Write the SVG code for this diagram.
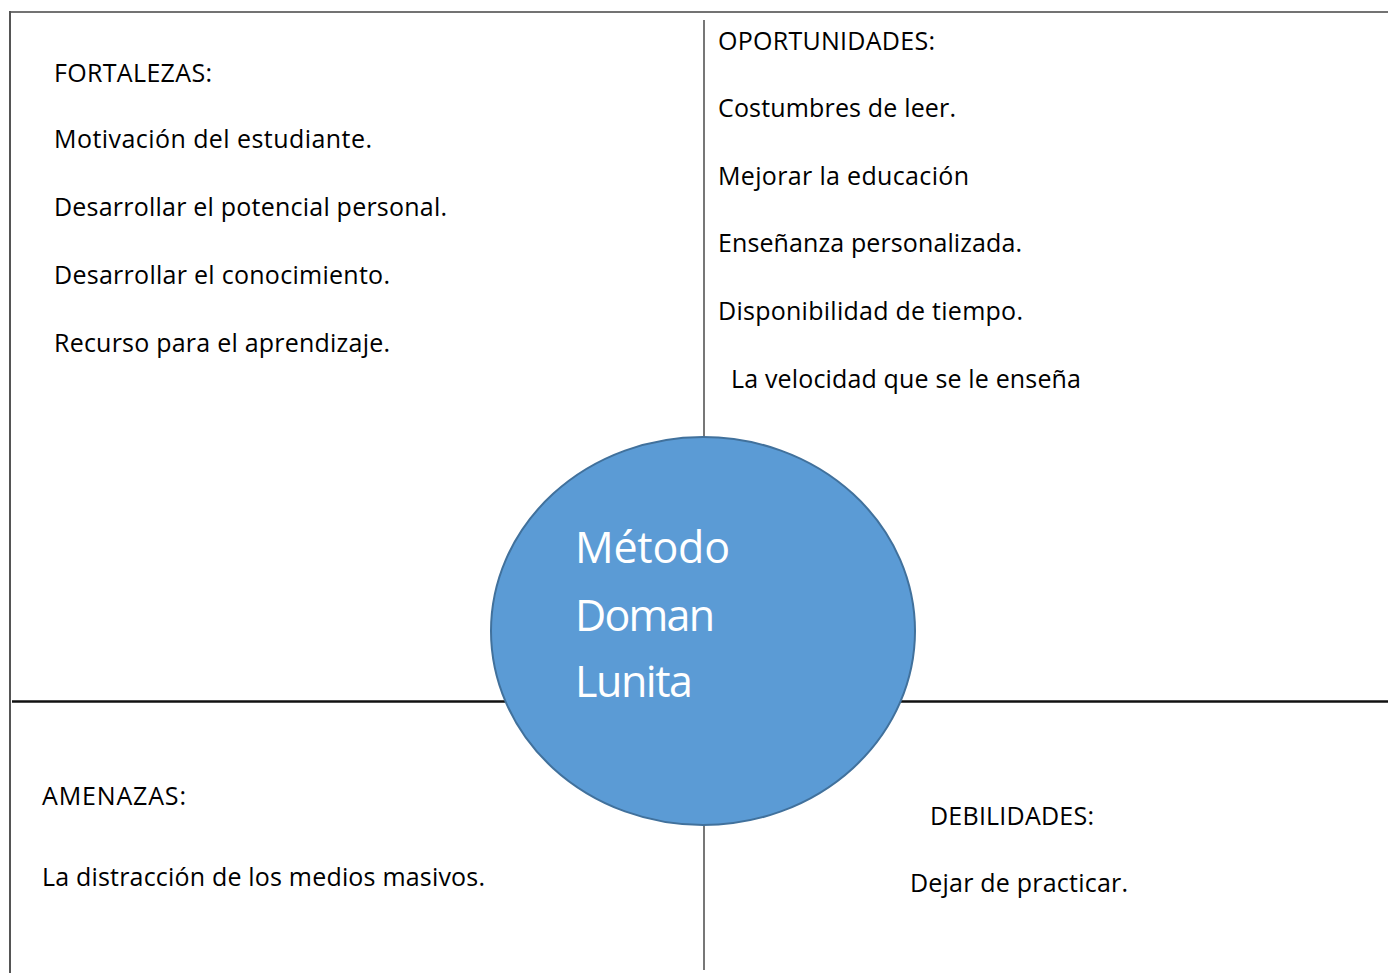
<svg xmlns="http://www.w3.org/2000/svg" width="1388" height="973" viewBox="0 0 1388 973">
<style>
.t{font-family:"Open Sans","Noto Sans","Liberation Sans",sans-serif;font-size:25px;fill:#000}
.c{font-family:"Open Sans","Noto Sans","Liberation Sans",sans-serif;font-size:43px;fill:#fff}
</style>
<rect width="1388" height="973" fill="#fff"/>
<g id="connectors">
<line x1="10" y1="12" x2="1388" y2="12" stroke="#444" stroke-width="1.6"/>
<line x1="10" y1="11" x2="10" y2="973" stroke="#555" stroke-width="2"/>
<line x1="704" y1="20" x2="704" y2="970" stroke="#555" stroke-width="1.6"/>
<line x1="12" y1="701.5" x2="1388" y2="701.5" stroke="#111" stroke-width="2.4"/>
</g>
<g id="fortalezas">
<text class="t" x="54" y="82" textLength="158">FORTALEZAS:</text>
<text class="t" x="54" y="148" textLength="318">Motivación del estudiante.</text>
<text class="t" x="54" y="216" textLength="393">Desarrollar el potencial personal.</text>
<text class="t" x="54" y="284" textLength="336">Desarrollar el conocimiento.</text>
<text class="t" x="54" y="352" textLength="336">Recurso para el aprendizaje.</text>
</g>
<g id="oportunidades">
<text class="t" x="718" y="50" textLength="217">OPORTUNIDADES:</text>
<text class="t" x="718" y="117" textLength="238">Costumbres de leer.</text>
<text class="t" x="718" y="185" textLength="251">Mejorar la educación</text>
<text class="t" x="718" y="252" textLength="304">Enseñanza personalizada.</text>
<text class="t" x="718" y="320" textLength="305">Disponibilidad de tiempo.</text>
<text class="t" x="731" y="388" textLength="350">La velocidad que se le enseña</text>
</g>
<g id="amenazas">
<text class="t" x="42" y="805" textLength="144">AMENAZAS:</text>
<text class="t" x="42" y="886" textLength="443">La distracción de los medios masivos.</text>
</g>
<g id="debilidades">
<text class="t" x="930" y="825" textLength="164">DEBILIDADES:</text>
<text class="t" x="910" y="892" textLength="218">Dejar de practicar.</text>
</g>
<g id="metodo">
<ellipse cx="703" cy="631" rx="212" ry="194" fill="#5B9BD5" stroke="#41719C" stroke-width="2"/>
<text class="c" x="575" y="563" textLength="155">Método</text>
<text class="c" x="575" y="631" textLength="140">Doman</text>
<text class="c" x="575" y="697" textLength="118">Lunita</text>
</g>
</svg>
